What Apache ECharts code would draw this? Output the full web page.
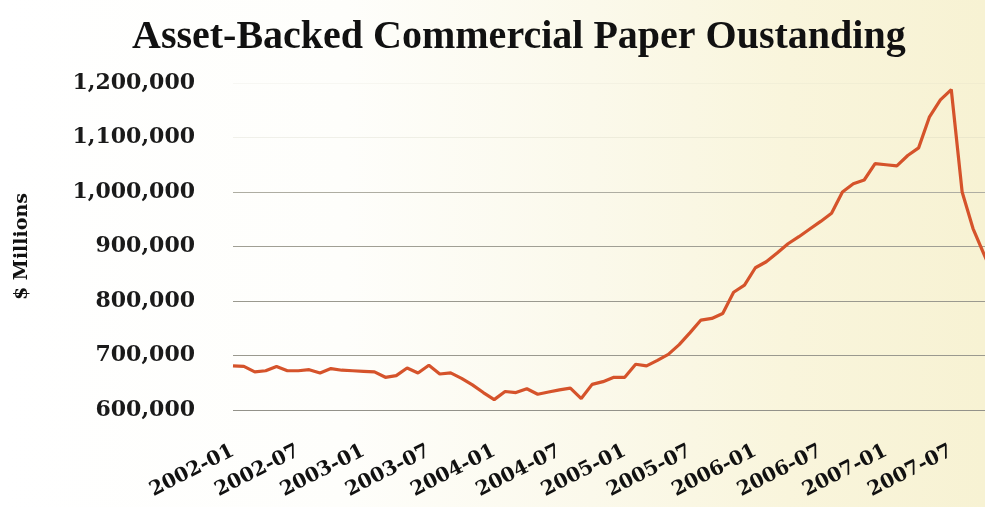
<!DOCTYPE html>
<html>
<head>
<meta charset="utf-8">
<script src="https://cdn.jsdelivr.net/npm/echarts@6/dist/echarts.min.js"></script>
<style>
html,body{margin:0;padding:0;background:#fff;overflow:hidden;}
#c{width:985px;height:507px;background:linear-gradient(to right,#ffffff 0%,#fefefb 35%,#fbf9eb 60%,#f9f5dc 80%,#f7f2d3 100%);}
</style>
</head>
<body>
<div id="c"></div>
<script>
const months = [
  "2002-01","2002-02","2002-03","2002-04","2002-05","2002-06","2002-07","2002-08","2002-09","2002-10","2002-11","2002-12",
  "2003-01","2003-02","2003-03","2003-04","2003-05","2003-06","2003-07","2003-08","2003-09","2003-10","2003-11","2003-12",
  "2004-01","2004-02","2004-03","2004-04","2004-05","2004-06","2004-07","2004-08","2004-09","2004-10","2004-11","2004-12",
  "2005-01","2005-02","2005-03","2005-04","2005-05","2005-06","2005-07","2005-08","2005-09","2005-10","2005-11","2005-12",
  "2006-01","2006-02","2006-03","2006-04","2006-05","2006-06","2006-07","2006-08","2006-09","2006-10","2006-11","2006-12",
  "2007-01","2007-02","2007-03","2007-04","2007-05","2007-06","2007-07","2007-08","2007-09","2007-10","2007-11"
];
const abcpOutstanding = [
  681000,680000,670000,672000,680000,672000,672000,674000,668000,676000,673000,672000,
  671000,670000,660000,663000,677000,668000,682000,666000,668000,658000,646000,632000,
  619000,634000,632000,639000,629000,633000,637000,640000,621000,647000,652000,660000,
  660000,684000,681000,691000,702000,720000,742000,765000,768000,777000,816000,829000,
  861000,872000,888000,905000,918000,932000,946000,961000,1000000,1015000,1022000,1052000,
  1050000,1048000,1067000,1081000,1138000,1169000,1188000,1000000,933000,886000,841000
];
const yMin = 600000, yMax = 1200000, yStep = 100000;
const xLabelStep = 6;          // one tick label every six months
const xVisibleEnd = 69.1;      // the picture is cut off just after 2007-10
const titleText = "Asset-Backed Commercial Paper Oustanding";
const yName = "$ Millions";

const seriesData = abcpOutstanding.map((v, i) => [i, v]);

const chart = echarts.init(document.getElementById('c'), null, {renderer: 'canvas'});
chart.setOption({
  backgroundColor: 'transparent',
  animation: false,
  title: {
    text: titleText,
    left: 127,
    top: 13,
    textStyle: {fontFamily: 'Liberation Serif', fontWeight: 'bold', fontSize: 40, color: '#111'}
  },
  grid: {left: 233, right: 0, top: 83, bottom: 97},
  xAxis: {
    type: 'value',
    min: 0,
    max: xVisibleEnd,
    interval: xLabelStep,
    axisLine: {show: false},
    axisTick: {show: false},
    splitLine: {show: false},
    axisLabel: {
      showMaxLabel: false,
      rotate: 27,
      margin: 40,
      fontFamily: 'DejaVu Serif',
      fontWeight: 'bold',
      fontSize: 20,
      color: '#111',
      formatter: v => (Number.isInteger(v) && months[v]) ? months[v] : ''
    }
  },
  yAxis: {
    type: 'value',
    min: yMin,
    max: yMax,
    interval: yStep,
    name: yName,
    nameLocation: 'middle',
    nameGap: 201,
    nameTextStyle: {fontFamily: 'DejaVu Serif', fontWeight: 'bold', fontSize: 19, color: '#111'},
    axisLine: {show: false},
    axisTick: {show: false},
    axisLabel: {
      margin: 38,
      fontFamily: 'DejaVu Serif',
      fontWeight: 'bold',
      fontSize: 22,
      color: '#1a1a1a',
      formatter: v => v.toLocaleString('en-US')
    },
    splitLine: {
      show: true,
      lineStyle: {
        color: ['#93928a','#9a998f','#9a998f','#a09f94','#aeada2','rgba(200,198,180,0.25)','rgba(200,198,180,0.12)'],
        width: 1.2
      }
    }
  },
  series: [{
    type: 'line',
    data: seriesData,
    symbol: 'none',
    smooth: false,
    clip: true,
    lineStyle: {color: '#d5532b', width: 3.2}
  }]
});
</script>
</body>
</html>
